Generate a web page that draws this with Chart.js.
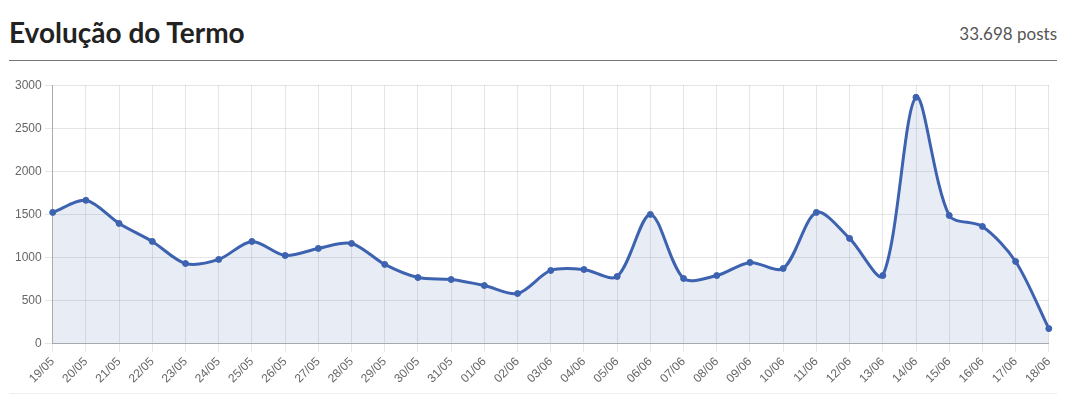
<!DOCTYPE html>
<html>
<head>
<meta charset="utf-8">
<script src="https://cdn.jsdelivr.net/npm/chart.js@4/dist/chart.umd.min.js"></script>
<style>
  body { margin: 0; background: #fff; font-family: Lato, sans-serif; }
  .box { position: absolute; left: 9px; top: 0; width: 1048px; height: 393px; border-bottom: 1px solid #eee; }
  .head { position: absolute; left: 0; right: 0; top: 14px; height: 46px; border-bottom: 1px solid #777; }
  .head h1 { margin: 0; font-size: 28px; font-weight: 700; color: #222; line-height: 36px; }
  .head span { position: absolute; right: 0; top: 9px; font-size: 17px; color: #555; }
  .wrap { position: absolute; left: 0; top: 75px; width: 1053px; height: 314px; }
</style>
</head>
<body>
<div class="box">
  <div class="head"><h1>Evolução do Termo</h1><span>33.698 posts</span></div>
  <div class="wrap"><canvas id="chart"></canvas></div>
</div>
<script>
const days = ["19/05", "20/05", "21/05", "22/05", "23/05", "24/05", "25/05", "26/05", "27/05", "28/05",
  "29/05", "30/05", "31/05", "01/06", "02/06", "03/06", "04/06", "05/06", "06/06", "07/06",
  "08/06", "09/06", "10/06", "11/06", "12/06", "13/06", "14/06", "15/06", "16/06", "17/06", "18/06"];
const posts = [1523, 1663, 1395, 1186, 930, 977, 1186, 1023, 1105, 1163,
  919, 767, 744, 674, 581, 849, 860, 779, 1500, 756,
  790, 942, 872, 1523, 1221, 790, 2860, 1488, 1360, 953, 174];

Chart.defaults.font.family = "Arial, 'Liberation Sans', sans-serif";
Chart.defaults.font.size = 12;
Chart.defaults.color = "#666";

const ctx = document.getElementById("chart").getContext("2d");
new Chart(ctx, {
  type: "line",
  data: {
    labels: days,
    datasets: [{
      data: posts,
      borderColor: "#3d62b0",
      backgroundColor: "rgba(61, 98, 176, 0.12)",
      borderWidth: 3,
      pointRadius: 3,
      pointBorderWidth: 1,
      pointBackgroundColor: "#3d62b0",
      pointBorderColor: "#3d62b0",
      fill: true,
      tension: 0.3
    }]
  },
  options: {
    responsive: true,
    maintainAspectRatio: false,
    animation: false,
    layout: { padding: { left: 3 } },
    plugins: { legend: { display: false }, tooltip: { enabled: false } },
    scales: {
      x: {
        grid: { color: "rgba(0,0,0,0.1)" },
        border: { color: "#aaa" },
        ticks: { maxRotation: 45, minRotation: 45, autoSkip: false }
      },
      y: {
        min: 0,
        max: 3000,
        grid: { color: "rgba(0,0,0,0.1)" },
        border: { color: "#aaa" },
        ticks: { stepSize: 500, callback: (v) => String(v) }
      }
    }
  }
});
</script>
</body>
</html>
